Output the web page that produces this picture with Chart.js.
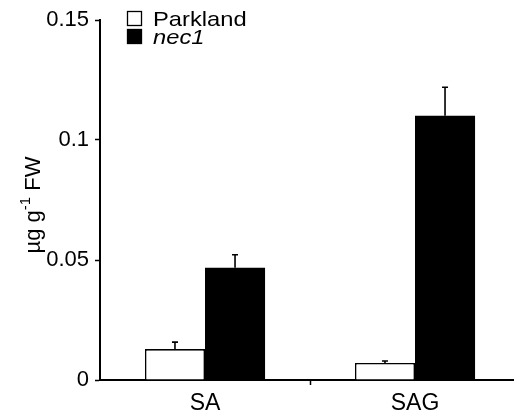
<!DOCTYPE html>
<html>
<head>
<meta charset="utf-8">
<script src="https://cdn.jsdelivr.net/npm/chart.js@4"></script>
<style>
  html, body { margin: 0; padding: 0; background: #fff; overflow: hidden; }
  #wrap { width: 514px; height: 414px; overflow: hidden; }
  canvas { display: block; }
</style>
</head>
<body>
<div id="wrap"><canvas id="c" width="524" height="414"></canvas></div>
<script>
// Salicylic acid (SA) and its glucoside (SAG) in leaves, µg per g fresh weight
const categories = ['SA', 'SAG'];
const parklandValues = [0.0129, 0.0071];
const parklandErrors = [0.0029, 0.0008];
const nec1Values = [0.0468, 0.1101];
const nec1Errors = [0.0054, 0.0119];
const yTickValues = [0, 0.05, 0.1, 0.15];
const yTickLabels = ['0', '0.05', '0.1', '0.15'];

const FONT = '"Liberation Sans", Arial, Helvetica, sans-serif';

// Upward-only error bars with a small cap
const errorBars = {
  id: 'errorBars',
  afterDatasetsDraw(chart) {
    const ctx = chart.ctx;
    const y = chart.scales.y;
    ctx.save();
    ctx.strokeStyle = '#000';
    ctx.lineWidth = 1.6;
    chart.data.datasets.forEach((ds, di) => {
      const meta = chart.getDatasetMeta(di);
      meta.data.forEach((bar, i) => {
        const v = ds.data[i];
        const e = ds.errors[i];
        const yTop = y.getPixelForValue(v + e);
        const yBar = y.getPixelForValue(v);
        ctx.beginPath();
        ctx.moveTo(bar.x, yBar);
        ctx.lineTo(bar.x, yTop);
        ctx.moveTo(bar.x - 3, yTop);
        ctx.lineTo(bar.x + 3, yTop);
        ctx.stroke();
      });
    });
    ctx.restore();
  }
};

// Rotated axis title with a superscript exponent
const yTitle = {
  id: 'yTitle',
  afterDraw(chart) {
    const ctx = chart.ctx;
    const parts = [
      { t: 'µg g', size: 22, rise: 0 },
      { t: '-1', size: 15, rise: 10 },
      { t: ' FW', size: 22, rise: 0 }
    ];
    ctx.save();
    let total = 0;
    parts.forEach(p => { ctx.font = p.size + 'px ' + FONT; p.w = ctx.measureText(p.t).width; total += p.w; });
    const cx = 40, cy = 205;
    ctx.translate(cx, cy);
    ctx.rotate(-Math.PI / 2);
    ctx.fillStyle = '#000';
    ctx.textBaseline = 'alphabetic';
    let x = -total / 2;
    parts.forEach(p => {
      ctx.font = p.size + 'px ' + FONT;
      ctx.fillText(p.t, x, -p.rise);
      x += p.w;
    });
    ctx.restore();
  }
};

// Legend: open box for the wild type, filled box for the mutant
const legendBoxes = {
  id: 'legendBoxes',
  afterDraw(chart) {
    const ctx = chart.ctx;
    ctx.save();
    const items = [
      { label: 'Parkland', fill: '#fff', italic: false, y: 11 },
      { label: 'nec1', fill: '#000', italic: true, y: 29 }
    ];
    items.forEach(it => {
      ctx.fillStyle = it.fill;
      ctx.fillRect(127, it.y, 15, 15);
      ctx.strokeStyle = '#000';
      ctx.lineWidth = 1.3;
      ctx.strokeRect(127.5, it.y + 0.5, 14, 14);
      ctx.fillStyle = '#000';
      ctx.font = (it.italic ? 'italic ' : '') + '21px ' + FONT;
      ctx.textBaseline = 'alphabetic';
      ctx.save();
      ctx.translate(153, it.y + 15);
      ctx.scale(1.13, 1);
      ctx.fillText(it.label, 0, 0);
      ctx.restore();
    });
    ctx.restore();
  }
};

new Chart(document.getElementById('c'), {
  type: 'bar',
  data: {
    labels: categories,
    datasets: [
      {
        label: 'Parkland',
        data: parklandValues,
        errors: parklandErrors,
        backgroundColor: '#fff',
        borderColor: '#000',
        borderWidth: 1.6
      },
      {
        label: 'nec1',
        data: nec1Values,
        errors: nec1Errors,
        backgroundColor: '#000',
        borderColor: '#000',
        borderWidth: 0
      }
    ]
  },
  options: {
    responsive: false,
    animation: false,
    layout: { padding: { top: 20, right: 4, left: 0, bottom: 0 } },
    datasets: { bar: { barPercentage: 1, categoryPercentage: 0.572 } },
    plugins: { legend: { display: false }, tooltip: { enabled: false }, title: { display: false } },
    scales: {
      x: {
        type: 'category',
        offset: true,
        afterFit(s) { s.height = 34; },
        grid: {
          offset: true,
          drawOnChartArea: false,
          tickLength: 5,
          tickWidth: 1.5,
          tickColor: ctx => (ctx.index === 1 ? '#000' : 'rgba(0,0,0,0)')
        },
        border: { display: true, color: '#000', width: 2 },
        ticks: { color: '#000', font: { family: FONT, size: 23 }, padding: 5 }
      },
      y: {
        min: 0,
        max: 0.15,
        afterFit(s) { s.width = 100; },
        afterBuildTicks(s) { s.ticks = yTickValues.map(v => ({ value: v })); },
        grid: { drawOnChartArea: false, tickLength: 5, tickWidth: 1.5, color: '#000' },
        border: { display: true, color: '#000', width: 2 },
        ticks: {
          color: '#000',
          padding: 6,
          font: { family: FONT, size: 22 },
          callback: (v, i) => yTickLabels[i]
        }
      }
    }
  },
  plugins: [errorBars, yTitle, legendBoxes]
});
</script>
</body>
</html>
